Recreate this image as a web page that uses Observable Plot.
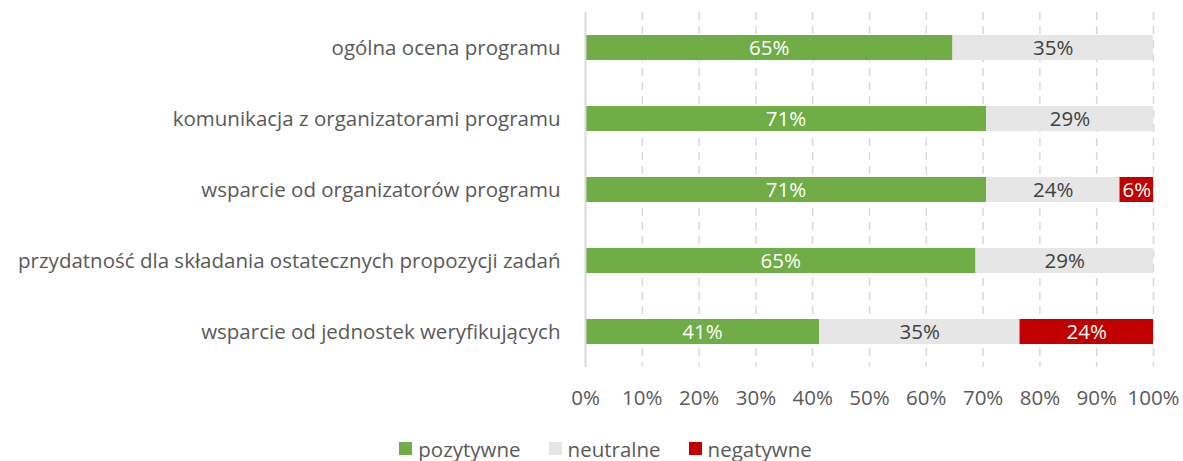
<!DOCTYPE html>
<html>
<head>
<meta charset="utf-8">
<script src="https://cdn.jsdelivr.net/npm/d3@7"></script>
<script src="https://cdn.jsdelivr.net/npm/@observablehq/plot@0.6"></script>
<style>
  body { margin: 0; background: #fff; font-family: "Open Sans", sans-serif; }
  #legend { display: flex; justify-content: center; gap: 28px; font-size: 20.5px; color: #595959; height: 31px; align-items: center; padding-top: 6px; box-sizing: border-box; padding-left: 28px; }
  #legend .item { display: flex; align-items: center; gap: 6px; }
  #legend .sw { width: 13px; height: 13px; display: inline-block; }
</style>
</head>
<body>
<div id="chart"></div>
<div id="legend"></div>
<script>
const categories = [
  "ogólna ocena programu",
  "komunikacja z organizatorami programu",
  "wsparcie od organizatorów programu",
  "przydatność dla składania ostatecznych propozycji zadań",
  "wsparcie od jednostek weryfikujących"
];
const seriesNames = ["pozytywne", "neutralne", "negatywne"];
const positive = [64.7, 70.6, 70.6, 64.7, 41.2];
const neutral  = [35.3, 29.4, 23.5, 29.4, 35.3];
const negative = [0, 0, 5.9, 0, 23.5];
const xTicks = [0, 0.1, 0.2, 0.3, 0.4, 0.5, 0.6, 0.7, 0.8, 0.9, 1];
const colors = ["#70AD47", "#E7E6E6", "#C00000"];
const textColors = ["#ffffff", "#404040", "#ffffff"];

const seriesValues = [positive, neutral, negative];
const data = [];
categories.forEach((c, i) => {
  seriesNames.forEach((s, j) => {
    data.push({category: c, series: s, value: seriesValues[j][i], si: j});
  });
});

const chart = Plot.plot({
  width: 1183,
  height: 430,
  marginLeft: 585,
  marginRight: 30,
  marginTop: 12,
  marginBottom: 63,
  style: {fontFamily: "'Open Sans', sans-serif", fontSize: "20.5px", color: "#595959", background: "#fff"},
  x: {domain: [0, 1], ticks: xTicks, tickFormat: d3.format(".0%"), label: null, tickSize: 0, tickPadding: 23},
  y: {domain: categories, label: null, paddingInner: 0.65, paddingOuter: 0.325, tickSize: 0, tickPadding: 25},
  color: {domain: seriesNames, range: colors},
  marks: [
    Plot.ruleX(xTicks.slice(1), {stroke: "#D9D9D9", strokeWidth: 1.5, strokeDasharray: "8,6"}),
    Plot.barX(data, Plot.stackX({x: "value", y: "category", fill: "series", offset: "normalize", order: null})),
    Plot.text(data.filter(d => d.value > 0), Plot.stackX({
      x: "value", y: "category", offset: "normalize", order: null,
      text: d => Math.round(d.value) + "%",
      fill: d => textColors[d.si],
      fontSize: 20.5
    })),
    Plot.ruleX([0], {stroke: "#D9D9D9", strokeWidth: 2})
  ]
});
document.getElementById("chart").appendChild(chart);

const legend = document.getElementById("legend");
seriesNames.forEach((s, j) => {
  const item = document.createElement("div");
  item.className = "item";
  const sw = document.createElement("span");
  sw.className = "sw";
  sw.style.background = colors[j];
  const t = document.createElement("span");
  t.textContent = s;
  item.appendChild(sw);
  item.appendChild(t);
  legend.appendChild(item);
});
</script>
</body>
</html>
